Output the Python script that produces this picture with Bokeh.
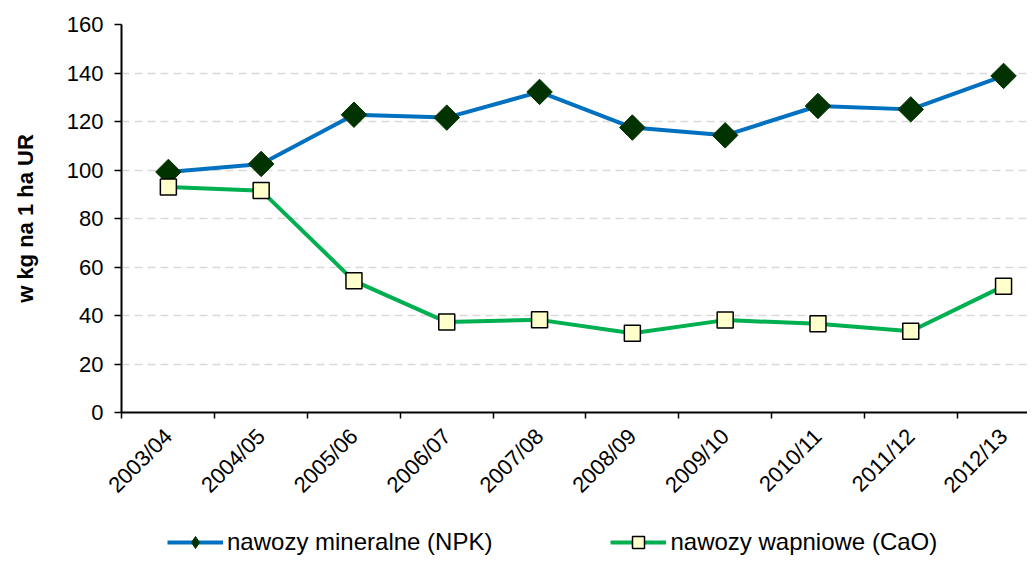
import math
from bokeh.plotting import figure
from bokeh.layouts import column
from bokeh.models import Range1d, FixedTicker, Legend, LegendItem
from bokeh.embed import file_html
from bokeh.resources import INLINE

categories = ["2003/04", "2004/05", "2005/06", "2006/07", "2007/08",
              "2008/09", "2009/10", "2010/11", "2011/12", "2012/13"]
npk = [99.2, 102.5, 122.8, 121.6, 132.2, 117.5, 114.3, 126.4, 125.0, 138.8]
cao = [93.0, 91.5, 54.3, 37.3, 38.2, 32.7, 38.1, 36.6, 33.5, 52.1]
y_ticks = [0, 20, 40, 60, 80, 100, 120, 140, 160]
series_names = ["nawozy mineralne (NPK)", "nawozy wapniowe (CaO)"]

FONT = "Liberation Sans"
NPK_LINE, NPK_MARK = "#0070C0", "#003300"
CAO_LINE, CAO_MARK = "#00B050", "#FFFFCC"
xs = list(range(len(categories)))

p = figure(width=1027, height=520, x_range=Range1d(-0.505, 9.258),
           y_range=Range1d(0, 160), output_backend="svg", toolbar_location=None,
           min_border_left=121, min_border_right=0, min_border_top=24,
           min_border_bottom=108)
p.outline_line_color = None
p.background_fill_color = "white"
p.border_fill_color = "white"

# grid
p.xgrid.visible = False
p.ygrid.ticker = FixedTicker(ticks=y_ticks[1:])
p.ygrid.grid_line_color = "#D9D9D9"
p.ygrid.grid_line_width = 1.5
p.ygrid.grid_line_dash = "8 5"

# y axis
p.yaxis.ticker = FixedTicker(ticks=y_ticks)
p.yaxis.axis_line_color = "black"
p.yaxis.axis_line_width = 2
p.yaxis.major_tick_out = 7
p.yaxis.major_tick_in = 0
p.yaxis.major_tick_line_width = 1.5
p.yaxis.minor_tick_line_color = None
p.yaxis.major_label_text_font = FONT
p.yaxis.major_label_text_font_size = "22px"
p.yaxis.major_label_text_color = "black"
p.yaxis.major_label_standoff = 11
p.yaxis.axis_label = "w kg na 1 ha UR"
p.yaxis.axis_label_text_font = FONT
p.yaxis.axis_label_text_font_style = "bold"
p.yaxis.axis_label_text_font_size = "22px"
p.yaxis.axis_label_text_color = "black"
p.yaxis.axis_label_standoff = 26

# x axis
p.xaxis.ticker = FixedTicker(ticks=xs, minor_ticks=[i - 0.5 for i in range(len(categories) + 1)])
p.xaxis.major_label_overrides = {i: c for i, c in enumerate(categories)}
p.xaxis.major_label_orientation = math.pi / 4
p.xaxis.axis_line_color = "black"
p.xaxis.axis_line_width = 2
p.xaxis.major_tick_out = 0
p.xaxis.major_tick_in = 0
p.xaxis.minor_tick_out = 6
p.xaxis.minor_tick_in = 0
p.xaxis.minor_tick_line_color = "black"
p.xaxis.minor_tick_line_width = 1.5
p.xaxis.major_label_text_font = FONT
p.xaxis.major_label_text_font_size = "22px"
p.xaxis.major_label_text_color = "black"
p.xaxis.major_label_standoff = 14

# series
p.line(xs, npk, line_color=NPK_LINE, line_width=4)
p.scatter(xs, npk, marker="square", size=18, angle=math.pi / 4,
          fill_color=NPK_MARK, line_color=NPK_MARK, line_width=1)
p.line(xs, cao, line_color=CAO_LINE, line_width=4)
p.scatter(xs, cao, marker="square", size=16, fill_color=CAO_MARK,
          line_color="black", line_width=1.5)

# legend strip (its own small figure; the series are drawn out of view there)
q = figure(width=1027, height=37, x_range=Range1d(100, 101), y_range=Range1d(100, 101),
           output_backend="svg", toolbar_location=None,
           x_axis_location=None, y_axis_location=None,
           min_border_left=0, min_border_right=0, min_border_top=0, min_border_bottom=0)
q.outline_line_color = None
q.xgrid.visible = False
q.ygrid.visible = False
ql1 = q.line(xs, npk, line_color=NPK_LINE, line_width=4)
qm1 = q.scatter(xs, npk, marker="diamond", size=18,
                fill_color=NPK_MARK, line_color=NPK_MARK, line_width=1)
ql2 = q.line(xs, cao, line_color=CAO_LINE, line_width=4)
qm2 = q.scatter(xs, cao, marker="square", size=16, fill_color=CAO_MARK,
                line_color="black", line_width=1.5)

legend = Legend(items=[
    LegendItem(label=series_names[0], renderers=[ql1, qm1]),
    LegendItem(label=series_names[1], renderers=[ql2, qm2]),
], orientation="horizontal", location=(46, 0), glyph_width=56, glyph_height=30,
    label_standoff=4, spacing=118, padding=0, margin=0,
    label_text_font=FONT, label_text_font_size="24px", label_text_color="black",
    border_line_color=None, background_fill_alpha=0)
q.add_layout(legend, "center")

layout = column(p, q, spacing=0)
open("out.html", "w").write(file_html(layout, INLINE))
